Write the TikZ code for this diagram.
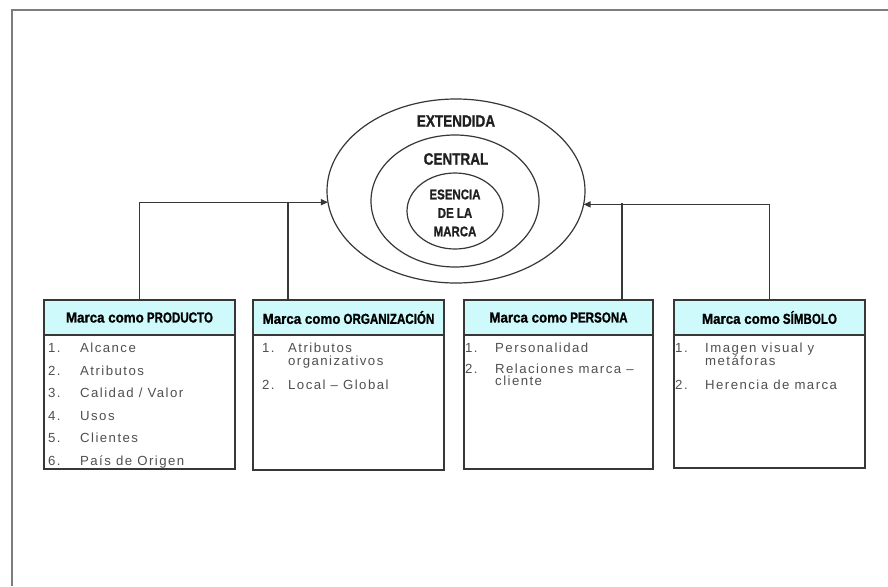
\documentclass[tikz,border=0pt]{standalone}
\usepackage{fontspec}
\setmainfont{Liberation Sans}
\newfontfamily\listfont[LetterSpace=11]{Liberation Sans}
\newfontfamily\heavyfont[FakeBold=1.2]{Liberation Sans Bold}
\usetikzlibrary{shapes.geometric,arrows.meta,calc}

\definecolor{ink}{RGB}{55,55,55}
\definecolor{edge}{RGB}{125,125,125}
\definecolor{hdrfill}{RGB}{206,250,252}
\definecolor{listink}{RGB}{80,80,80}

% header title: plain part and condensed capitals
\newcommand\cardtitle[2]{\scalebox{0.92}[1]{\heavyfont #1}\hspace{3pt}\scalebox{0.8}[1]{\heavyfont #2}}
\newcommand\ringtext[1]{\scalebox{0.82}[1]{\heavyfont #1}}

\begin{document}
\begin{tikzpicture}[x=1pt,y=-1pt,
  ring/.style={ellipse,draw=ink,line width=1.2pt,inner sep=0pt,outer sep=0pt},
  ringlabel/.style={inner sep=0pt,font=\fontsize{16.5}{18.5}\selectfont,text=black!88},
  card/.style={rectangle,draw=ink,line width=1.6pt,fill=white,inner sep=0pt,outer sep=0pt,anchor=north west},
  cardhead/.style={rectangle,draw=ink,line width=1.6pt,fill=hdrfill,inner sep=0pt,outer sep=0pt,anchor=north west,
    minimum height=35pt,font=\fontsize{14.5}{16}\selectfont,text=black},
  entry/.style={inner sep=0pt,anchor=base west,font=\listfont\fontsize{13.2}{13}\selectfont,text=listink},
  link/.style={draw=ink,line width=1.4pt},
  tip/.style={-{Triangle[length=7pt,width=6pt]}}]

\useasboundingbox (0,0) rectangle (888,586);
\fill[white] (0,0) rectangle (888,586);

% page frame
\draw[edge,line width=2.5pt] (12,586) -- (12,10) -- (888,10);

% nested brand rings
\node[ring,minimum width=258pt,minimum height=184pt] (ext) at (456,191) {};
\node[ring,minimum width=168pt,minimum height=132pt] (cen) at (455,201) {};
\node[ring,minimum width=96pt,minimum height=76pt] (ess) at (455,211) {};
\node[ringlabel] (lext) at (456,121) {\ringtext{EXTENDIDA}};
\node[ringlabel] (lcen) at (456,159) {\ringtext{CENTRAL}};
\node[ringlabel,align=center,font=\fontsize{14}{18.5}\selectfont] (less) at (455,213)
  {\ringtext{ESENCIA}\\\ringtext{DE LA}\\\ringtext{MARCA}};

% cards
\node[card,minimum width=191pt,minimum height=169pt] (b1) at (44,300) {};
\node[cardhead,minimum width=191pt] (h1) at (44,300) {\cardtitle{Marca como}{PRODUCTO}};
\node[card,minimum width=191pt,minimum height=170pt] (b2) at (253,300) {};
\node[cardhead,minimum width=191pt] (h2) at (253,300) {\cardtitle{Marca como}{ORGANIZACIÓN}};
\node[card,minimum width=189pt,minimum height=169pt] (b3) at (464,300) {};
\node[cardhead,minimum width=189pt] (h3) at (464,300) {\cardtitle{Marca como}{PERSONA}};
\node[card,minimum width=191pt,minimum height=168pt] (b4) at (674,300) {};
\node[cardhead,minimum width=191pt] (h4) at (674,300) {\cardtitle{Marca como}{SÍMBOLO}};

% list of card 1
\node[entry] (p1n) at (48,352.5) {1.};  \node[entry] (p1t) at (80,352.5) {Alcance};
\node[entry] (p2n) at (48,375.1) {2.};  \node[entry] (p2t) at (80,375.1) {Atributos};
\node[entry] (p3n) at (48,397.7) {3.};  \node[entry] (p3t) at (80,397.7) {Calidad / Valor};
\node[entry] (p4n) at (48,420.3) {4.};  \node[entry] (p4t) at (80,420.3) {Usos};
\node[entry] (p5n) at (48,442.9) {5.};  \node[entry] (p5t) at (80,442.9) {Clientes};
\node[entry] (p6n) at (48,465.5) {6.};  \node[entry] (p6t) at (80,465.5) {País de Origen};

% list of card 2
\node[entry] (o1n) at (262,352.5) {1.}; \node[entry] (o1t) at (288,352.5) {Atributos};
\node[entry] (o1u) at (288,365) {organizativos};
\node[entry] (o2n) at (262,389) {2.};   \node[entry] (o2t) at (288,389) {Local – Global};

% list of card 3
\node[entry] (s1n) at (465,352.5) {1.}; \node[entry] (s1t) at (495,352.5) {Personalidad};
\node[entry] (s2n) at (465,373) {2.};   \node[entry] (s2t) at (495,373) {Relaciones marca –};
\node[entry] (s2u) at (495,385.5) {cliente};

% list of card 4
\node[entry] (y1n) at (675,352.5) {1.}; \node[entry] (y1t) at (705,352.5) {Imagen visual y};
\node[entry] (y1u) at (705,365) {metáforas};
\node[entry] (y2n) at (675,389) {2.};   \node[entry] (y2t) at (705,389) {Herencia de marca};

% connectors into the rings
\coordinate (j2) at (288,203);
\coordinate (j3) at (622,203);
\draw[link,tip] (h1.north) |- (ext.185.36);
\draw[link] (h2.north -| j2) -- (j2);
\draw[link,tip] (h4.north) |- (ext.354.64);
\draw[link] (h3.north -| j3) -- (j3);

\end{tikzpicture}
\end{document}
